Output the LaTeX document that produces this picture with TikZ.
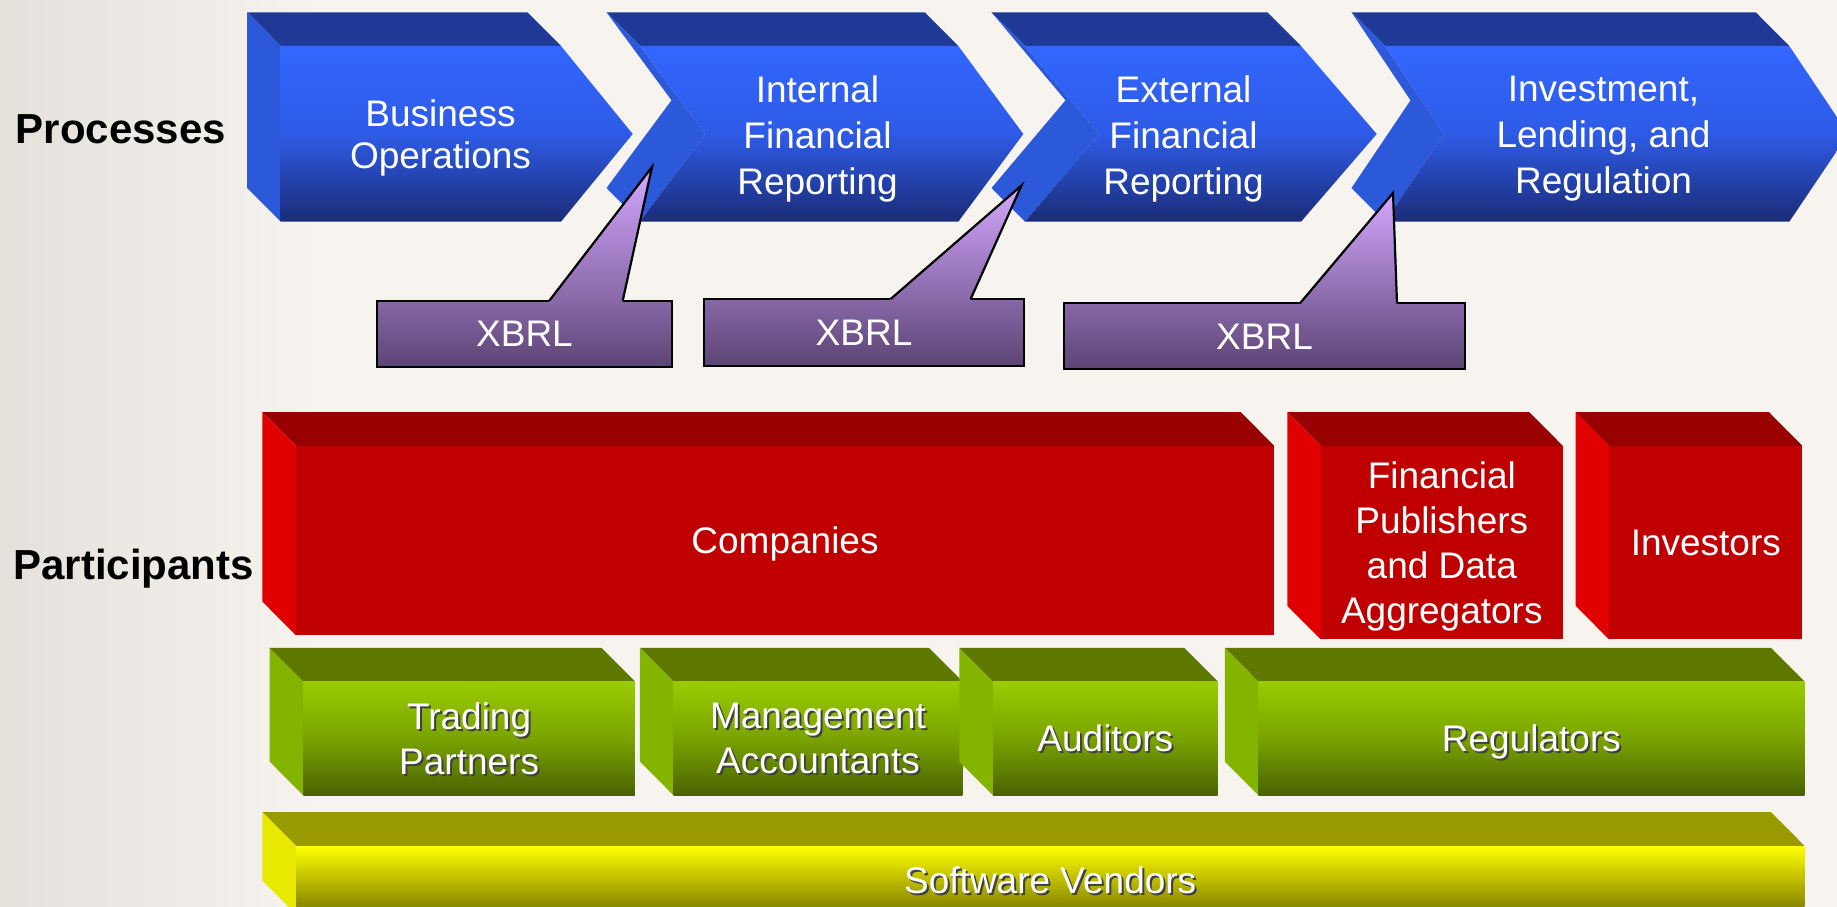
\documentclass[tikz,border=0pt]{standalone}
\usepackage{fontspec}
\setmainfont{Liberation Sans}
\usetikzlibrary{positioning}

\definecolor{bgpaper}{RGB}{247,244,239}
\definecolor{bghaze}{RGB}{228,224,218}
\definecolor{proctop}{RGB}{31,58,150}
\definecolor{procside}{RGB}{44,88,218}
\definecolor{procfronta}{RGB}{51,102,255}
\definecolor{procfrontm}{RGB}{46,91,230}
\definecolor{procfrontb}{RGB}{27,44,120}
\definecolor{comptop}{RGB}{153,0,0}
\definecolor{compside}{RGB}{224,0,0}
\definecolor{compfront}{RGB}{192,0,0}
\definecolor{partop}{RGB}{94,120,0}
\definecolor{parside}{RGB}{132,180,0}
\definecolor{parfronta}{RGB}{153,204,0}
\definecolor{parfrontm}{RGB}{122,163,0}
\definecolor{parfrontb}{RGB}{74,98,0}
\definecolor{vendtop}{RGB}{153,153,0}
\definecolor{vendside}{RGB}{232,232,0}
\definecolor{vendfronta}{RGB}{255,255,0}
\definecolor{vendfrontb}{RGB}{122,120,0}
\definecolor{xbrla}{RGB}{212,168,255}
\definecolor{xbrlb}{RGB}{135,103,166}
\definecolor{xbrlc}{RGB}{92,68,117}

\newcommand\shtxt[1]{\makebox[0pt][l]{\hspace{2pt}\raisebox{-2pt}{\color{black!75}#1}}#1}

\tikzset
{
    txt/.style      = {font=\fontsize{37}{45}\selectfont, text=white, align=center, text depth=0pt},
    rowlabel/.style = {font=\fontsize{42}{48}\selectfont\bfseries, text=black, text depth=0pt},
    procfront/.style = {top color=procfronta, bottom color=procfrontb, middle color=procfrontm},
    slab/.style 2 args = {rectangle, inner sep=0pt, txt, append after command={\pgfextra{
        \fill[#1] (\tikzlastnode.north west) -- (\tikzlastnode.north east) -- ++(-\DEPX,-\DEPY)
                  -- ([shift={(-\DEPX,-\DEPY)}]\tikzlastnode.north west) -- cycle;
        \fill[#2] (\tikzlastnode.north west) -- (\tikzlastnode.south west) -- ++(-\DEPX,-\DEPY)
                  -- ([shift={(-\DEPX,-\DEPY)}]\tikzlastnode.north west) -- cycle;}}},
    company/.style = {slab={comptop}{compside}, fill=compfront},
    partner/.style = {slab={partop}{parside}, top color=parfronta, bottom color=parfrontb, middle color=parfrontm},
    vendor/.style  = {slab={vendtop}{vendside}, top color=vendfronta, bottom color=vendfrontb},
    xbrlbox/.style = {rectangle, draw=black, line width=2.2pt, outer sep=0pt, top color=xbrlb, bottom color=xbrlc, txt},
    xbrlptr/.style = {top color=xbrla, bottom color=xbrlb}
}

\begin{document}
\begin{tikzpicture}[x=1pt, y=-1pt]

	 \newcommand\DEPX{33.5}
	 \newcommand\DEPY{33.7}
	 \newcommand\CHTOP{46}
	 \newcommand\CHMID{134}
	 \newcommand\CHBOT{221.7}

	 \useasboundingbox (0,0) rectangle (1837,907);
	 \clip (0,0) rectangle (1837,907);
	 \fill[bgpaper] (0,0) rectangle (1837,907);
	 \shade[left color=bghaze, right color=bgpaper] (0,0) rectangle (320,907);

	 %% process chevrons: left x / right x / tip depth / notch depth
	 \foreach \xl/\xr/\tip/\notch in {280.7/561/71.7/0, 640/958.3/65/65, 1025/1301/75.7/74, 1385/1789.3/59/59}
	 {
	   \fill[proctop]  (\xl,\CHTOP) -- (\xr,\CHTOP) -- ++(-\DEPX,-\DEPY) -- ({\xl-\DEPX},{\CHTOP-\DEPY}) -- cycle;
	   \fill[procside] (\xl,\CHTOP) -- ({\xl+\notch},\CHMID) -- (\xl,\CHBOT) -- ++(-\DEPX,-\DEPY)
	                   -- ({\xl+\notch-\DEPX},{\CHMID-\DEPY}) -- ({\xl-\DEPX},{\CHTOP-\DEPY}) -- cycle;
	   \shade[procfront] (\xl,\CHTOP) -- (\xr,\CHTOP) -- ({\xr+\tip},\CHMID) -- (\xr,\CHBOT)
	                   -- (\xl,\CHBOT) -- ({\xl+\notch},\CHMID) -- cycle;
	 }

	 \node (bo)  [txt, font=\fontsize{37}{42}\selectfont] at (440.5,134.2) {Business\\Operations};
	 \node (ifr) [txt, font=\fontsize{37}{46}\selectfont] at (817.5,135)   {Internal\\Financial\\Reporting};
	 \node (efr) [txt, font=\fontsize{37}{46}\selectfont] at (1183.5,135)  {External\\Financial\\Reporting};
	 \node (ilr) [txt, font=\fontsize{37}{46}\selectfont] at (1603.5,135)  {Investment,\\Lending, and\\Regulation};

	 \node (proc) [rowlabel] at (121,129)   {Processes};
	 \node (part) [rowlabel] at (133.6,564) {Participants};

	 %% xbrl callouts: name / centre / size / tip / pointer base
	 \foreach \name/\cx/\cy/\w/\h/\px/\py/\bl/\br in {xa/524.5/334/295.6/66.6/652/167/24.8/98.2,
	                                                  xb/864/332.3/320/66.7/1021.5/185.5/26.7/106.7,
	                                                  xc/1264.5/336.3/401/66/1393/193/35.5/132.5}
	 {
	   \node (\name) [xbrlbox, minimum width=\w, minimum height=\h] at (\cx,\cy) {XBRL};
	   \coordinate (\name-tip) at (\px,\py);
	   \shade[xbrlptr] ([xshift=\bl]\name.north) -- (\name-tip) -- ([xshift=\br]\name.north)
	                   -- ([xshift=\br,yshift=-2.5]\name.north) -- ([xshift=\bl,yshift=-2.5]\name.north) -- cycle;
	   \draw[line width=2.2pt] ([xshift=\bl]\name.north) -- (\name-tip) -- ([xshift=\br]\name.north);
	 }

	 %% participants
	 \node (co) [company, minimum width=978,   minimum height=189]   at (785,540.5)    {Companies};
	 \node (fp) [company, minimum width=241.6, minimum height=193.3] at (1441.8,542.7) {Financial\\Publishers\\and Data\\Aggregators};
	 \node (iv) [company, minimum width=192.8, minimum height=193.3] at (1705.8,542.7) {Investors};

	 \node (tp) [partner, minimum width=331.6, minimum height=113.3] at (469.1,738.4)  {\shtxt{Trading}\\\shtxt{Partners}};
	 \node (ma) [partner, minimum width=288.7, minimum height=113.3] at (818,738.4)    {\shtxt{Management}\\\shtxt{Accountants}};
	 \node (au) [partner, minimum width=224.6, minimum height=113.3] at (1105.3,738.4) {\shtxt{Auditors}};
	 \node (re) [partner, minimum width=545.9, minimum height=113.3] at (1531.4,738.4) {\shtxt{Regulators}};

	 \node (sv) [vendor, minimum width=1508.2, minimum height=68] at (1050.2,880) {\shtxt{Software Vendors}};

\end{tikzpicture}
\end{document}
